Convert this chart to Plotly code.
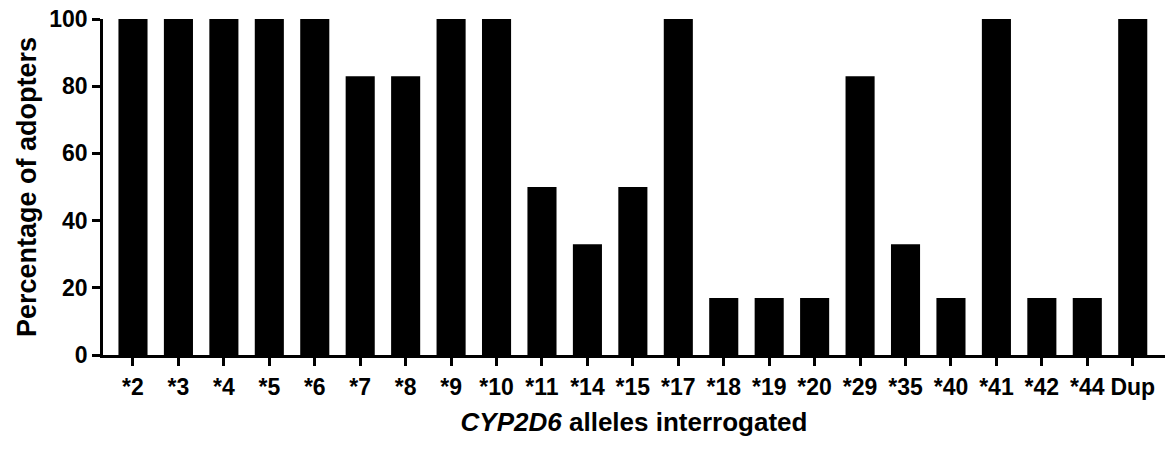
import plotly.graph_objects as go

alleles = ["*2", "*3", "*4", "*5", "*6", "*7", "*8", "*9", "*10", "*11", "*14", "*15",
           "*17", "*18", "*19", "*20", "*29", "*35", "*40", "*41", "*42", "*44", "Dup"]
percent_adopters = [100, 100, 100, 100, 100, 83, 83, 100, 100, 50, 33, 50,
                    100, 17, 17, 17, 83, 33, 17, 100, 17, 17, 100]
y_ticks = [0, 20, 40, 60, 80, 100]

font_family = "Liberation Sans, Arial, Helvetica, sans-serif"

fig = go.Figure(go.Bar(
    x=alleles,
    y=percent_adopters,
    marker=dict(color="black", line=dict(width=0)),
    width=0.64,
))

fig.update_layout(
    width=1174,
    height=451,
    margin=dict(l=103, r=9, t=19, b=96),
    plot_bgcolor="white",
    paper_bgcolor="white",
    showlegend=False,
    font=dict(family=font_family, color="black"),
)

fig.update_xaxes(
    type="category",
    range=[-0.66, 22.71],
    automargin=False,
    showline=True,
    linecolor="black",
    linewidth=2.5,
    ticks="outside",
    ticklen=8,
    tickwidth=2.5,
    tickcolor="black",
    showgrid=False,
    zeroline=False,
    ticklabelstandoff=2,
    tickfont=dict(size=23, family=font_family, weight="bold"),
    title=dict(
        text="<i>CYP2D6</i> alleles interrogated",
        font=dict(size=26, family=font_family, weight="bold"),
        standoff=14,
    ),
)

fig.update_yaxes(
    range=[0, 100.01],
    tickvals=y_ticks,
    automargin=False,
    showline=True,
    linecolor="black",
    linewidth=2.5,
    ticks="outside",
    ticklen=8,
    tickwidth=2.5,
    tickcolor="black",
    showgrid=False,
    zeroline=False,
    tickfont=dict(size=23, family=font_family, weight="bold"),
    title=dict(
        text="Percentage of adopters",
        font=dict(size=27, family=font_family, weight="bold"),
        standoff=5,
    ),
)

# remove the browser's default 8px body margin so the figure sits at the page origin
fig.write_html(
    "out.html",
    config={"displayModeBar": False},
    post_script="document.body.style.margin='0';document.body.style.overflow='hidden';",
)
